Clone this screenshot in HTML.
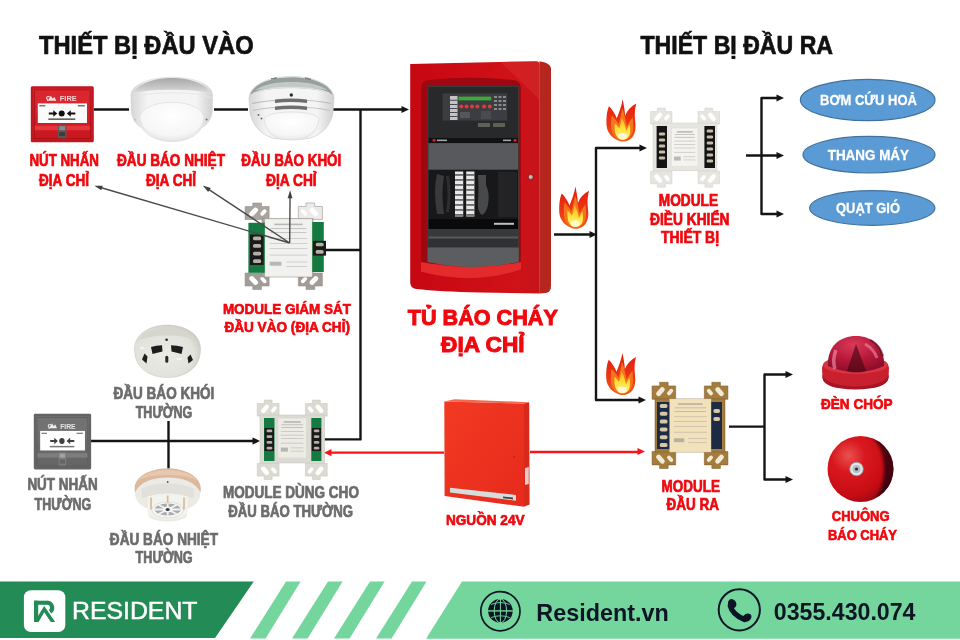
<!DOCTYPE html>
<html><head><meta charset="utf-8">
<style>
html,body{margin:0;padding:0;background:#fff;}
body{width:960px;height:640px;overflow:hidden;position:relative;font-family:"Liberation Sans",sans-serif;}
svg{position:absolute;left:0;top:0;display:block;font-family:"Liberation Sans",sans-serif;will-change:transform;}
.t text{font-family:"Liberation Sans",sans-serif;font-weight:bold;}
.r{fill:#f0080e;stroke:#f0080e;stroke-width:0.7;}
.rb{fill:#f0080e;stroke:#f0080e;stroke-width:1.0;}
.g{fill:#6c6c6c;stroke:#6c6c6c;stroke-width:0.7;}
.k{fill:#111;stroke:#111;stroke-width:0.7;}
.w{fill:#fff;stroke:#fff;stroke-width:0.3;}
</style></head>
<body>
<svg width="960" height="640" viewBox="0 0 960 640">

<defs>
  <linearGradient id="gRedBox" x1="0" y1="0" x2="0" y2="1">
    <stop offset="0" stop-color="#e02a30"/><stop offset="1" stop-color="#c8161e"/>
  </linearGradient>
  <linearGradient id="gDet" x1="0" y1="0" x2="0" y2="1">
    <stop offset="0" stop-color="#d8d8d8"/><stop offset="0.35" stop-color="#f2f2f2"/><stop offset="1" stop-color="#ffffff"/>
  </linearGradient>
  <linearGradient id="gDetSide" x1="0" y1="0" x2="1" y2="0">
    <stop offset="0" stop-color="#d6d6d6"/><stop offset="0.2" stop-color="#f4f4f4"/><stop offset="0.8" stop-color="#f4f4f4"/><stop offset="1" stop-color="#d0d0d0"/>
  </linearGradient>
  <linearGradient id="gRim" x1="0" y1="0" x2="0" y2="1">
    <stop offset="0" stop-color="#a8a8a8"/><stop offset="0.6" stop-color="#c8c8c8"/><stop offset="1" stop-color="#e4e4e4"/>
  </linearGradient>
  <radialGradient id="gDome" cx="0.5" cy="0.35" r="0.7">
    <stop offset="0" stop-color="#ffffff"/><stop offset="0.7" stop-color="#f6f6f6"/><stop offset="1" stop-color="#e2e2e2"/>
  </radialGradient>
  <linearGradient id="gCab" x1="0" y1="0" x2="1" y2="0">
    <stop offset="0" stop-color="#c40812"/><stop offset="0.3" stop-color="#cc0a14"/><stop offset="0.8" stop-color="#d01218"/><stop offset="1" stop-color="#c4141a"/>
  </linearGradient>
  <linearGradient id="gCabTop" x1="0" y1="0" x2="0" y2="1">
    <stop offset="0" stop-color="#e8403e"/><stop offset="1" stop-color="#d41c20"/>
  </linearGradient>
  <linearGradient id="gPsu" x1="0" y1="0" x2="1" y2="1">
    <stop offset="0" stop-color="#f23a22"/><stop offset="1" stop-color="#e62a1c"/>
  </linearGradient>
  <radialGradient id="gBell" cx="0.32" cy="0.3" r="0.85">
    <stop offset="0" stop-color="#ea5050"/><stop offset="0.3" stop-color="#d8181e"/><stop offset="0.7" stop-color="#c80c14"/><stop offset="0.92" stop-color="#960a14"/><stop offset="1" stop-color="#5a0610"/>
  </radialGradient>
  <radialGradient id="gStrobe" cx="0.45" cy="0.25" r="0.85">
    <stop offset="0" stop-color="#d83a58"/><stop offset="0.5" stop-color="#b8183a"/><stop offset="1" stop-color="#800a24"/>
  </radialGradient>
  <linearGradient id="gStrobeBase" x1="0" y1="0" x2="0" y2="1">
    <stop offset="0" stop-color="#e0303a"/><stop offset="1" stop-color="#b8141e"/>
  </linearGradient>
  <linearGradient id="gFlameO" x1="0" y1="0" x2="0" y2="1">
    <stop offset="0" stop-color="#e41c0e"/><stop offset="0.6" stop-color="#ec3614"/><stop offset="1" stop-color="#f2601a"/>
  </linearGradient>
  <linearGradient id="gFlameI" x1="0" y1="0" x2="0" y2="1">
    <stop offset="0" stop-color="#f8a822"/><stop offset="0.5" stop-color="#fde036"/><stop offset="1" stop-color="#fff690"/>
  </linearGradient>
  <filter id="soft" x="-20%" y="-20%" width="140%" height="140%"><feGaussianBlur stdDeviation="1.6"/></filter>
  <filter id="gray" color-interpolation-filters="sRGB"><feColorMatrix type="saturate" values="0"/><feComponentTransfer><feFuncR type="linear" slope="0.82" intercept="0.2"/><feFuncG type="linear" slope="0.82" intercept="0.2"/><feFuncB type="linear" slope="0.82" intercept="0.2"/></feComponentTransfer></filter>
</defs>

<rect width="960" height="640" fill="#fff"/>

<g stroke="#141414" stroke-width="2.4" fill="none" stroke-linejoin="round">
  <path d="M94,109.5 H129 M214,109.5 H248 M333,109.5 H404"/>
  <path d="M360.5,109.5 V439.4 H324.6"/>
  <path d="M326,250 H360.5"/>
  <path d="M91,441 H254"/>
  <path d="M168.5,421 V469"/>
  <path d="M554,234.5 H591"/>
  <path d="M641,148 H596 V400 H640"/>
  <path d="M746,155.5 H779 M779,98 H761.5 V214 H779"/>
  <path d="M729,426.6 H764.5 M788,374.5 H764.5 V479.5 H788"/>
</g>
<g fill="#141414">
  <path d="M409,109.5 l-7.5,-3.6 v7.2 z"/>
  <path d="M597,234.5 l-7.5,-3.6 v7.2 z"/>
  <path d="M647,148 l-7.5,-3.6 v7.2 z"/>
  <path d="M646,400 l-7.5,-3.6 v7.2 z"/>
  <path d="M784,98 l-7.5,-3.6 v7.2 z"/>
  <path d="M784,155.5 l-7.5,-3.6 v7.2 z"/>
  <path d="M784,214 l-7.5,-3.6 v7.2 z"/>
  <path d="M793,374.5 l-7.5,-3.6 v7.2 z"/>
  <path d="M793,479.5 l-7.5,-3.6 v7.2 z"/>
  <path d="M260,441 l-7.5,-3.6 v7.2 z"/>
</g>
<g stroke="#f81418" stroke-width="2.3" fill="none">
  <path d="M329,452.7 H444 M530,452 H640"/>
</g>
<g fill="#f81418">
  <path d="M324,452.7 l7.5,-3.6 v7.2 z"/>
  <path d="M645,451.5 l-7.5,-3.6 v7.2 z"/>
</g>

<g transform="translate(30.8,86.2)">
<rect x="0" y="0" width="63" height="56" rx="1.5" fill="#c4161e"/>
<rect x="2.5" y="2.5" width="58" height="51" fill="url(#gRedBox)"/>
<rect x="4" y="4" width="55" height="13" fill="#da2630"/>
<rect x="3.6" y="3.6" width="55.8" height="48.8" fill="none" stroke="#a8121a" stroke-width="0.9"/>
<text x="15" y="15" font-size="7.5" fill="#f8d8d8" font-weight="bold" font-style="italic">ʕ</text>
<path d="M17,14.5 l3,-5 l2,3 l1.5,-2 l2,4 z" fill="#f6e0e0"/>
<text x="29" y="15" font-size="8" fill="#f4d0d0" font-weight="bold" textLength="17" lengthAdjust="spacingAndGlyphs">FIRE</text>
<rect x="7" y="17.2" width="49.2" height="19.6" fill="#fafafa"/>
<rect x="8.5" y="19" width="6" height="1.2" fill="#555"/><rect x="47" y="19" width="7" height="1.2" fill="#555"/>
<circle cx="30.9" cy="27.3" r="3" fill="#111"/>
<path d="M18,26.3 h4.5 v-2.2 l4,3.2 l-4,3.2 v-2.2 h-4.5 z" fill="#111"/>
<path d="M44.5,26.3 h-4.5 v-2.2 l-4,3.2 l4,3.2 v-2.2 h4.5 z" fill="#111"/>
<rect x="17.5" y="32.2" width="27" height="1.5" fill="#555"/>
<rect x="4" y="39.5" width="55" height="4.5" fill="#e4363c"/>
<rect x="27.2" y="38.5" width="8.4" height="13.5" rx="1" fill="#5a5a5a"/>
<rect x="28.4" y="40" width="6" height="4" fill="#8a8a8a"/>
<rect x="28.4" y="46" width="6" height="4" fill="#3c3c3c"/>
</g>
<g transform="translate(33.8,413.8) scale(0.91,0.996)" filter="url(#gray)">
<rect x="0" y="0" width="63" height="56" rx="1.5" fill="#c4161e"/>
<rect x="2.5" y="2.5" width="58" height="51" fill="url(#gRedBox)"/>
<rect x="4" y="4" width="55" height="13" fill="#da2630"/>
<rect x="3.6" y="3.6" width="55.8" height="48.8" fill="none" stroke="#a8121a" stroke-width="0.9"/>
<text x="15" y="15" font-size="7.5" fill="#f8d8d8" font-weight="bold" font-style="italic">ʕ</text>
<path d="M17,14.5 l3,-5 l2,3 l1.5,-2 l2,4 z" fill="#f6e0e0"/>
<text x="29" y="15" font-size="8" fill="#f4d0d0" font-weight="bold" textLength="17" lengthAdjust="spacingAndGlyphs">FIRE</text>
<rect x="7" y="17.2" width="49.2" height="19.6" fill="#fafafa"/>
<rect x="8.5" y="19" width="6" height="1.2" fill="#555"/><rect x="47" y="19" width="7" height="1.2" fill="#555"/>
<circle cx="30.9" cy="27.3" r="3" fill="#111"/>
<path d="M18,26.3 h4.5 v-2.2 l4,3.2 l-4,3.2 v-2.2 h-4.5 z" fill="#111"/>
<path d="M44.5,26.3 h-4.5 v-2.2 l-4,3.2 l4,3.2 v-2.2 h4.5 z" fill="#111"/>
<rect x="17.5" y="32.2" width="27" height="1.5" fill="#555"/>
<rect x="4" y="39.5" width="55" height="4.5" fill="#e4363c"/>
<rect x="27.2" y="38.5" width="8.4" height="13.5" rx="1" fill="#5a5a5a"/>
<rect x="28.4" y="40" width="6" height="4" fill="#8a8a8a"/>
<rect x="28.4" y="46" width="6" height="4" fill="#3c3c3c"/>
</g>
<g transform="translate(131,77.3) scale(1.0)">
<path d="M0,18 C0,7 19,0 41,0 C63,0 81.5,7 81.5,18 L81.3,34 C80.5,42 76,48 70.5,50.5 C67,58 56,64.2 41,64.2 C26,64.2 15,58 11,50.5 C5.5,48 1,42 0.2,34 Z" fill="url(#gDetSide)" stroke="#d4d4d4" stroke-width="0.6"/>
<path d="M1.5,17 C6,6 24,0.8 41,0.8 C58,0.8 76,6 80,17 C72,13.5 58,12.5 41,12.5 C24,12.5 10,13.5 1.5,17 Z" fill="url(#gRim)"/>
<path d="M1,21 C8,17 24,15.5 41,15.5 C58,15.5 74,17 81,21" fill="none" stroke="#e6e6e6" stroke-width="0.9"/>
<path d="M8.8,40 C10,31 24,25 41,25 C58,25 71.5,31 72.8,40 C72,53 58,63.8 41,63.8 C24,63.8 10,53 8.8,40 Z" fill="url(#gDome)" stroke="#e0e0e0" stroke-width="0.8"/>
<circle cx="4" cy="42.5" r="1" fill="#c0c0c0"/><circle cx="75.6" cy="42.2" r="1.1" fill="#777"/>
</g>
<g transform="translate(249,76.5) scale(1.0)">
<path d="M0,22 C0,9 19,0 42.5,0 C66,0 85,9 85,22 L84,36 C82,48 74,58 60,62 Q42.5,64.5 25,62 C11,58 3,48 1,36 Z" fill="url(#gDetSide)" stroke="#c8c8c8" stroke-width="0.6"/>
<path d="M1.5,18 C5,7 22,0.8 42.5,0.8 C63,0.8 80,7 83.5,18 C76,14 62,11.5 42.5,11.5 C23,11.5 9,14 1.5,18 Z" fill="#98a09e"/>
<path d="M6,14 C13,8 27,5.5 42.5,5.5 C58,5.5 72,8 79,14 C72,12 60,11 42.5,11 C25,11 13,12 6,14 Z" fill="#c2c8c6"/>
<path d="M4,17.5 C11,13 26,11 42.5,11 C59,11 74,13 81,17.5" fill="none" stroke="#dadedc" stroke-width="1.6"/>
<path d="M22,2.5 L28,1.5 M56,1.5 L62,3" stroke="#7c8482" stroke-width="1.6"/>
<circle cx="42.3" cy="18.5" r="1.7" fill="#2a2a2a"/>
<path d="M3,27 C14,24.5 28,23.5 42.5,23.5 C57,23.5 71,24.5 82,27" fill="none" stroke="#bcbcbc" stroke-width="1.1"/>
<path d="M4,34 C15,31.5 28,30.5 42.5,30.5 C57,30.5 70,31.5 81,34" fill="none" stroke="#c0c0c0" stroke-width="1.1"/>
<path d="M26,23 Q42,21 58,23 L58,26.5 Q42,24.5 26,26.5 Z" fill="#6e6e6e"/>
<path d="M26,30 Q42,28 58,30 L58,33.5 Q42,31.5 26,33.5 Z" fill="#6e6e6e"/>
<path d="M15,42 C18,37.5 30,35.5 42.5,35.5 C55,35.5 67,37.5 70,42 C69,53 62,60.5 52,62.8 Q42.5,64 33,62.8 C23,60.5 16,53 15,42 Z" fill="url(#gDome)" stroke="#dcdcdc" stroke-width="0.8"/>
<circle cx="9.5" cy="38.5" r="0.9" fill="#666"/><circle cx="12.5" cy="42" r="0.9" fill="#666"/>
</g>
<g transform="translate(134,325)">
<defs><radialGradient id="gCS" cx="0.45" cy="0.55" r="0.6"><stop offset="0" stop-color="#ecece6"/><stop offset="0.75" stop-color="#e2e2dc"/><stop offset="1" stop-color="#c8c8c0"/></radialGradient></defs>
<path d="M0.5,24 C0.5,9 16,0 33.5,0 C51,0 66.5,9 66.5,24 C66.5,30 65,36 62,40 C56,48 46,52.5 33.5,52.5 C21,52.5 11,48 5,40 C2,36 0.5,30 0.5,24 Z" fill="url(#gCS)" stroke="#c4c4bc" stroke-width="0.5"/>
<path d="M4,16 C10,7 21,2.5 33.5,2.5 C46,2.5 57,7 63,16 C55,12 45,10.5 33.5,10.5 C22,10.5 12,12 4,16 Z" fill="#d6d6ce"/>
<circle cx="32.6" cy="14.8" r="1.3" fill="#222"/>
<path d="M17,22 Q22,20.5 28,20.3 L28.5,26.5 Q23,27.5 18.5,29 Z" fill="#1e1e1e"/>
<path d="M37,20.3 Q43,20.5 49,22 L47.5,29 Q43,27.5 37.5,26.5 Z" fill="#1e1e1e"/>
<path d="M10.5,28.5 L13.5,31.5 L12.5,38.5 L8,34.5 Z" fill="#1e1e1e"/>
<path d="M56.5,29.5 L53.5,32.5 L54.5,38.5 L59,35 Z" fill="#1e1e1e"/>
<rect x="31.3" y="30.8" width="3" height="7" rx="1.5" fill="#2a2a2a"/>
<ellipse cx="8" cy="23" rx="2" ry="1" fill="#fafafa" opacity="0.8"/>
<ellipse cx="45" cy="34" rx="3" ry="1.2" fill="#fafafa" opacity="0.7"/>
</g>
<g transform="translate(133.7,468.5)">
<path d="M1,20 C1,8 16,0 34,0 C52,0 67,8 67,20 L66.5,27 C65,34 60,38 54,40 L53,48 C50,51.5 42,53 34,53 C26,53 18,51.5 15,48 L14,40 C8,38 3,34 1.5,27 Z" fill="#eceae4"/>
<path d="M1,20 C1,8 16,0 34,0 C52,0 67,8 67,20 L66.8,24 C62,14 50,9 34,9 C18,9 6,14 1.2,24 Z" fill="#dcb89c"/>
<path d="M4,12 C10,5 22,1.5 34,1.5 C46,1.5 58,5 64,12 C56,8 46,6.5 34,6.5 C22,6.5 12,8 4,12 Z" fill="#e6c8b0"/>
<circle cx="34" cy="13.5" r="0.9" fill="#555"/>
<path d="M8,20 C16,16 26,15 34,15 C42,15 52,16 60,20 L60,30 C52,27 42,26 34,26 C26,26 16,27 8,30 Z" fill="#e2e0da"/>
<path d="M14,28 C20,26 28,25 34,25 C40,25 48,26 54,28 L54,44 C50,49 42,51 34,51 C26,51 18,49 14,44 Z" fill="#f2f2ee"/>
<ellipse cx="34" cy="41.5" rx="16" ry="8" fill="#f6f6f4" stroke="#d8d8d4" stroke-width="0.8"/>
<ellipse cx="34" cy="41" rx="13" ry="6" fill="#a8acae"/>
<g stroke="#f4f4f2" stroke-width="1.8"><path d="M21,41 H47 M34,35 V47 M25,36.5 L43,45.5 M43,36.5 L25,45.5"/></g>
<ellipse cx="34" cy="41" rx="4.5" ry="3" fill="#f4f4f2"/>
<ellipse cx="34" cy="41" rx="2" ry="1.5" fill="#3a3a3a"/>
<g fill="#d9b594"><rect x="16.5" y="29" width="1.6" height="12"/><rect x="49.5" y="29" width="1.6" height="12"/><rect x="33.2" y="27" width="1.6" height="7"/></g>
</g>
<g><g transform="translate(244,202.5) scale(1.0931,1.0000)">
<path d="M1,4 H8 V0.5 H16 V4 H23 V17 H1 Z" fill="#aaa49f" stroke="#8e8884" stroke-width="0.5"/>
<rect x="6.5" y="4.5" width="4.6" height="10" rx="2.3" transform="rotate(40 8.8 9.5)" fill="#ffffff"/>
<rect x="16" y="6.5" width="3.6" height="7" rx="1.8" transform="rotate(40 17.8 10)" fill="#ffffff"/>
</g>
<g transform="translate(323.5,202.5) scale(-1.0931,1.0000)">
<path d="M1,4 H8 V0.5 H16 V4 H23 V17 H1 Z" fill="#ecebea" stroke="#8e8884" stroke-width="0.5"/>
<rect x="6.5" y="4.5" width="4.6" height="10" rx="2.3" transform="rotate(40 8.8 9.5)" fill="#ffffff"/>
<rect x="16" y="6.5" width="3.6" height="7" rx="1.8" transform="rotate(40 17.8 10)" fill="#ffffff"/>
</g>
<g transform="translate(244,290) scale(1.0931,-1.0000)">
<path d="M1,4 H8 V0.5 H16 V4 H23 V17 H1 Z" fill="#a29c98" stroke="#8e8884" stroke-width="0.5"/>
<rect x="6.5" y="4.5" width="4.6" height="10" rx="2.3" transform="rotate(40 8.8 9.5)" fill="#ffffff"/>
<rect x="16" y="6.5" width="3.6" height="7" rx="1.8" transform="rotate(40 17.8 10)" fill="#ffffff"/>
</g>
<g transform="translate(323.5,290) scale(-1.0931,-1.0000)">
<path d="M1,4 H8 V0.5 H16 V4 H23 V17 H1 Z" fill="#a29c98" stroke="#8e8884" stroke-width="0.5"/>
<rect x="6.5" y="4.5" width="4.6" height="10" rx="2.3" transform="rotate(40 8.8 9.5)" fill="#ffffff"/>
<rect x="16" y="6.5" width="3.6" height="7" rx="1.8" transform="rotate(40 17.8 10)" fill="#ffffff"/>
</g>
<rect x="262" y="218.5" width="51.00" height="58.50" fill="#aaa49f" stroke="#8e8884" stroke-width="0.5"/>
<rect x="248.4" y="222.8" width="16.60" height="50.00" fill="#157a42"/>
<rect x="312" y="222" width="11.80" height="50.00" fill="#157a42"/>
<rect x="250" y="234.5" width="13.60" height="30.50" fill="#1a1a1a"/>
<rect x="312.8" y="240.8" width="13.20" height="14.80" fill="#1a1a1a"/>
<rect x="252.99200000000002" y="236.41" width="8.160000000000013" height="3.8125" rx="1.59" fill="#b4b0a8"/><rect x="252.99200000000002" y="244.03" width="8.160000000000013" height="3.8125" rx="1.59" fill="#b4b0a8"/><rect x="252.99200000000002" y="251.66" width="8.160000000000013" height="3.8125" rx="1.59" fill="#b4b0a8"/><rect x="252.99200000000002" y="259.28" width="8.160000000000013" height="3.8125" rx="1.59" fill="#b4b0a8"/>
<rect x="315.704" y="242.65" width="7.919999999999993" height="3.6999999999999957" rx="1.54" fill="#b4b0a8"/><rect x="315.704" y="250.05" width="7.919999999999993" height="3.6999999999999957" rx="1.54" fill="#b4b0a8"/>
<rect x="265" y="219" width="47.00" height="57.70" fill="#f1f1ef" stroke="#d6d2c8" stroke-width="0.4"/>
<g fill="#8a8a8a" opacity="0.55"><rect x="274.40" y="223.62" width="28.20" height="1.6"/><rect x="270.64" y="228.23" width="35.72" height="0.8"/><rect x="270.64" y="232.27" width="35.72" height="0.8"/><rect x="269.70" y="238.04" width="37.60" height="0.6"/><rect x="269.70" y="243.23" width="37.60" height="0.6"/><rect x="269.70" y="248.43" width="37.60" height="0.6"/><rect x="269.70" y="254.77" width="37.60" height="0.6"/><rect x="269.70" y="261.70" width="11.75" height="4"/><rect x="286.15" y="261.70" width="21.15" height="0.6"/><rect x="286.15" y="266.31" width="21.15" height="0.6"/></g></g>
<g><g transform="translate(256.3,399.6) scale(0.9886,0.9706)">
<path d="M1,4 H8 V0.5 H16 V4 H23 V17 H1 Z" fill="#dcdbd3" stroke="#c4c2b8" stroke-width="0.5"/>
<rect x="6.5" y="4.5" width="4.6" height="10" rx="2.3" transform="rotate(40 8.8 9.5)" fill="#ffffff"/>
<rect x="16" y="6.5" width="3.6" height="7" rx="1.8" transform="rotate(40 17.8 10)" fill="#ffffff"/>
</g>
<g transform="translate(328.2,399.6) scale(-0.9886,0.9706)">
<path d="M1,4 H8 V0.5 H16 V4 H23 V17 H1 Z" fill="#dcdbd3" stroke="#c4c2b8" stroke-width="0.5"/>
<rect x="6.5" y="4.5" width="4.6" height="10" rx="2.3" transform="rotate(40 8.8 9.5)" fill="#ffffff"/>
<rect x="16" y="6.5" width="3.6" height="7" rx="1.8" transform="rotate(40 17.8 10)" fill="#ffffff"/>
</g>
<g transform="translate(256.3,480) scale(0.9886,-0.9706)">
<path d="M1,4 H8 V0.5 H16 V4 H23 V17 H1 Z" fill="#dcdbd3" stroke="#c4c2b8" stroke-width="0.5"/>
<rect x="6.5" y="4.5" width="4.6" height="10" rx="2.3" transform="rotate(40 8.8 9.5)" fill="#ffffff"/>
<rect x="16" y="6.5" width="3.6" height="7" rx="1.8" transform="rotate(40 17.8 10)" fill="#ffffff"/>
</g>
<g transform="translate(328.2,480) scale(-0.9886,-0.9706)">
<path d="M1,4 H8 V0.5 H16 V4 H23 V17 H1 Z" fill="#dcdbd3" stroke="#c4c2b8" stroke-width="0.5"/>
<rect x="6.5" y="4.5" width="4.6" height="10" rx="2.3" transform="rotate(40 8.8 9.5)" fill="#ffffff"/>
<rect x="16" y="6.5" width="3.6" height="7" rx="1.8" transform="rotate(40 17.8 10)" fill="#ffffff"/>
</g>
<rect x="260" y="415" width="64.60" height="48.00" fill="#dcdbd3" stroke="#c4c2b8" stroke-width="0.5"/>
<rect x="264" y="418" width="10.50" height="43.00" fill="#157a42"/>
<rect x="311.3" y="418" width="10.10" height="43.00" fill="#157a42"/>
<rect x="264.5" y="428" width="9.50" height="23.00" fill="#1a1a1a"/>
<rect x="311.8" y="428" width="9.20" height="23.00" fill="#1a1a1a"/>
<rect x="266.59" y="429.44" width="5.7" height="2.875" rx="1.20" fill="#b4b0a8"/><rect x="266.59" y="435.19" width="5.7" height="2.875" rx="1.20" fill="#b4b0a8"/><rect x="266.59" y="440.94" width="5.7" height="2.875" rx="1.20" fill="#b4b0a8"/><rect x="266.59" y="446.69" width="5.7" height="2.875" rx="1.20" fill="#b4b0a8"/>
<rect x="313.824" y="429.44" width="5.519999999999993" height="2.875" rx="1.20" fill="#b4b0a8"/><rect x="313.824" y="435.19" width="5.519999999999993" height="2.875" rx="1.20" fill="#b4b0a8"/><rect x="313.824" y="440.94" width="5.519999999999993" height="2.875" rx="1.20" fill="#b4b0a8"/><rect x="313.824" y="446.69" width="5.519999999999993" height="2.875" rx="1.20" fill="#b4b0a8"/>
<rect x="278" y="418" width="28.30" height="40.00" fill="#ecebe4" stroke="#d6d2c8" stroke-width="0.4"/>
<g fill="#8a8a8a" opacity="0.55"><rect x="283.66" y="421.20" width="16.98" height="1.6"/><rect x="281.40" y="424.40" width="21.51" height="0.8"/><rect x="281.40" y="427.20" width="21.51" height="0.8"/><rect x="280.83" y="431.20" width="22.64" height="0.6"/><rect x="280.83" y="434.80" width="22.64" height="0.6"/><rect x="280.83" y="438.40" width="22.64" height="0.6"/><rect x="280.83" y="442.80" width="22.64" height="0.6"/><rect x="280.83" y="447.60" width="7.08" height="4"/><rect x="290.74" y="447.60" width="12.74" height="0.6"/><rect x="290.74" y="450.80" width="12.74" height="0.6"/></g></g>
<g><g transform="translate(649.6,107.6) scale(0.9749,0.9706)">
<path d="M1,4 H8 V0.5 H16 V4 H23 V17 H1 Z" fill="#e6e5e0" stroke="#cfcdc6" stroke-width="0.5"/>
<rect x="6.5" y="4.5" width="4.6" height="10" rx="2.3" transform="rotate(40 8.8 9.5)" fill="#ffffff"/>
<rect x="16" y="6.5" width="3.6" height="7" rx="1.8" transform="rotate(40 17.8 10)" fill="#ffffff"/>
</g>
<g transform="translate(720.5,107.6) scale(-0.9749,0.9706)">
<path d="M1,4 H8 V0.5 H16 V4 H23 V17 H1 Z" fill="#e6e5e0" stroke="#cfcdc6" stroke-width="0.5"/>
<rect x="6.5" y="4.5" width="4.6" height="10" rx="2.3" transform="rotate(40 8.8 9.5)" fill="#ffffff"/>
<rect x="16" y="6.5" width="3.6" height="7" rx="1.8" transform="rotate(40 17.8 10)" fill="#ffffff"/>
</g>
<g transform="translate(649.6,187.7) scale(0.9749,-0.9706)">
<path d="M1,4 H8 V0.5 H16 V4 H23 V17 H1 Z" fill="#e6e5e0" stroke="#cfcdc6" stroke-width="0.5"/>
<rect x="6.5" y="4.5" width="4.6" height="10" rx="2.3" transform="rotate(40 8.8 9.5)" fill="#ffffff"/>
<rect x="16" y="6.5" width="3.6" height="7" rx="1.8" transform="rotate(40 17.8 10)" fill="#ffffff"/>
</g>
<g transform="translate(720.5,187.7) scale(-0.9749,-0.9706)">
<path d="M1,4 H8 V0.5 H16 V4 H23 V17 H1 Z" fill="#e6e5e0" stroke="#cfcdc6" stroke-width="0.5"/>
<rect x="6.5" y="4.5" width="4.6" height="10" rx="2.3" transform="rotate(40 8.8 9.5)" fill="#ffffff"/>
<rect x="16" y="6.5" width="3.6" height="7" rx="1.8" transform="rotate(40 17.8 10)" fill="#ffffff"/>
</g>
<rect x="653" y="123" width="64.00" height="47.80" fill="#e6e5e0" stroke="#cfcdc6" stroke-width="0.5"/>
<rect x="656.6" y="126" width="10.40" height="42.00" fill="#141414"/>
<rect x="704.4" y="126" width="10.60" height="42.00" fill="#141414"/>
<rect x="658.888" y="132.50" width="6.239999999999986" height="3.0" rx="1.25" fill="#c8bea8"/><rect x="658.888" y="138.50" width="6.239999999999986" height="3.0" rx="1.25" fill="#c8bea8"/><rect x="658.888" y="144.50" width="6.239999999999986" height="3.0" rx="1.25" fill="#c8bea8"/><rect x="658.888" y="150.50" width="6.239999999999986" height="3.0" rx="1.25" fill="#c8bea8"/><rect x="658.888" y="156.50" width="6.239999999999986" height="3.0" rx="1.25" fill="#c8bea8"/>
<rect x="706.732" y="129.50" width="6.360000000000014" height="3.0" rx="1.25" fill="#c8bea8"/><rect x="706.732" y="135.50" width="6.360000000000014" height="3.0" rx="1.25" fill="#c8bea8"/><rect x="706.732" y="141.50" width="6.360000000000014" height="3.0" rx="1.25" fill="#c8bea8"/><rect x="706.732" y="147.50" width="6.360000000000014" height="3.0" rx="1.25" fill="#c8bea8"/><rect x="706.732" y="153.50" width="6.360000000000014" height="3.0" rx="1.25" fill="#c8bea8"/><rect x="706.732" y="159.50" width="6.360000000000014" height="3.0" rx="1.25" fill="#c8bea8"/>
<rect x="671.4" y="128" width="26.60" height="38.60" fill="#f4f3ef" stroke="#d6d2c8" stroke-width="0.4"/>
<g fill="#8a8a8a" opacity="0.55"><rect x="676.72" y="131.09" width="15.96" height="1.6"/><rect x="674.59" y="134.18" width="20.22" height="0.8"/><rect x="674.59" y="136.88" width="20.22" height="0.8"/><rect x="674.06" y="140.74" width="21.28" height="0.6"/><rect x="674.06" y="144.21" width="21.28" height="0.6"/><rect x="674.06" y="147.69" width="21.28" height="0.6"/><rect x="674.06" y="151.93" width="21.28" height="0.6"/><rect x="674.06" y="156.56" width="6.65" height="4"/><rect x="683.37" y="156.56" width="11.97" height="0.6"/><rect x="683.37" y="159.65" width="11.97" height="0.6"/></g></g>
<g><g transform="translate(651,381.8) scale(1.0725,1.0294)">
<path d="M1,4 H8 V0.5 H16 V4 H23 V17 H1 Z" fill="#a47c3e" stroke="#7a5a28" stroke-width="0.5"/>
<rect x="6.5" y="4.5" width="4.6" height="10" rx="2.3" transform="rotate(40 8.8 9.5)" fill="#f2ead8"/>
<rect x="16" y="6.5" width="3.6" height="7" rx="1.8" transform="rotate(40 17.8 10)" fill="#f2ead8"/>
</g>
<g transform="translate(729,381.8) scale(-1.0725,1.0294)">
<path d="M1,4 H8 V0.5 H16 V4 H23 V17 H1 Z" fill="#a47c3e" stroke="#7a5a28" stroke-width="0.5"/>
<rect x="6.5" y="4.5" width="4.6" height="10" rx="2.3" transform="rotate(40 8.8 9.5)" fill="#f2ead8"/>
<rect x="16" y="6.5" width="3.6" height="7" rx="1.8" transform="rotate(40 17.8 10)" fill="#f2ead8"/>
</g>
<g transform="translate(651,469) scale(1.0725,-1.0294)">
<path d="M1,4 H8 V0.5 H16 V4 H23 V17 H1 Z" fill="#a47c3e" stroke="#7a5a28" stroke-width="0.5"/>
<rect x="6.5" y="4.5" width="4.6" height="10" rx="2.3" transform="rotate(40 8.8 9.5)" fill="#f2ead8"/>
<rect x="16" y="6.5" width="3.6" height="7" rx="1.8" transform="rotate(40 17.8 10)" fill="#f2ead8"/>
</g>
<g transform="translate(729,469) scale(-1.0725,-1.0294)">
<path d="M1,4 H8 V0.5 H16 V4 H23 V17 H1 Z" fill="#a47c3e" stroke="#7a5a28" stroke-width="0.5"/>
<rect x="6.5" y="4.5" width="4.6" height="10" rx="2.3" transform="rotate(40 8.8 9.5)" fill="#f2ead8"/>
<rect x="16" y="6.5" width="3.6" height="7" rx="1.8" transform="rotate(40 17.8 10)" fill="#f2ead8"/>
</g>
<rect x="655" y="399" width="70.00" height="53.00" fill="#a47c3e" stroke="#7a5a28" stroke-width="0.5"/>
<rect x="657" y="402" width="12.80" height="47.00" fill="#1c2a44"/>
<rect x="711" y="402" width="11.00" height="47.00" fill="#1c2a44"/>
<rect x="659.816" y="403.96" width="7.679999999999972" height="3.9166666666666665" rx="1.63" fill="#d4c8a8"/><rect x="659.816" y="411.79" width="7.679999999999972" height="3.9166666666666665" rx="1.63" fill="#d4c8a8"/><rect x="659.816" y="419.62" width="7.679999999999972" height="3.9166666666666665" rx="1.63" fill="#d4c8a8"/><rect x="659.816" y="427.46" width="7.679999999999972" height="3.9166666666666665" rx="1.63" fill="#d4c8a8"/><rect x="659.816" y="435.29" width="7.679999999999972" height="3.9166666666666665" rx="1.63" fill="#d4c8a8"/><rect x="659.816" y="443.12" width="7.679999999999972" height="3.9166666666666665" rx="1.63" fill="#d4c8a8"/>
<rect x="713.42" y="409.00" width="6.6" height="4.0" rx="1.67" fill="#d4c8a8"/><rect x="713.42" y="417.00" width="6.6" height="4.0" rx="1.67" fill="#d4c8a8"/>
<rect x="669.8" y="399" width="41.20" height="53.00" fill="#f2e2bc" stroke="#d6d2c8" stroke-width="0.4"/>
<g fill="#8a8a8a" opacity="0.55"><rect x="678.04" y="403.24" width="24.72" height="1.6"/><rect x="674.74" y="407.48" width="31.31" height="0.8"/><rect x="674.74" y="411.19" width="31.31" height="0.8"/><rect x="673.92" y="416.49" width="32.96" height="0.6"/><rect x="673.92" y="421.26" width="32.96" height="0.6"/><rect x="673.92" y="426.03" width="32.96" height="0.6"/><rect x="673.92" y="431.86" width="32.96" height="0.6"/><rect x="673.92" y="438.22" width="10.30" height="4"/><rect x="688.34" y="438.22" width="18.54" height="0.6"/><rect x="688.34" y="442.46" width="18.54" height="0.6"/></g></g>
<g>
<!-- cabinet -->
<path d="M539.4,61.3 L545,62.5 Q551,64.5 551,69 L551,286 Q551,292 546,293 L539.4,293.5 Z" fill="#b4261e"/>
<path d="M410.2,64 L536,61.2 Q539.6,61.2 539.6,65 L539.6,293.5 L480,292.5 Q440,291.5 416,289 Q410.2,288 410.2,282 Z" fill="url(#gCab)"/>
<path d="M500,62 L536,61.2 Q539.6,61.2 539.6,65 L539.6,100 Q520,80 500,62 Z" fill="#dc3a36" opacity="0.35"/>
<!-- recess -->
<path d="M421.2,88 Q421.2,80.5 429,80 Q471,75.5 513,80 Q520.8,80.5 520.8,88 L520.8,264 L421.2,264 Z" fill="#9c0812"/>
<path d="M421,262 Q473,272 521,262 L521,270 Q473,286 421,272 Z" fill="#e42a2a"/>
<path d="M421,272 Q473,286 521,270" stroke="#b80a14" stroke-width="1" fill="none" opacity="0.6"/>
<!-- window -->
<rect x="427.5" y="86" width="91.3" height="176" fill="#3b3c3e"/>
<rect x="428.5" y="87" width="89.5" height="50" fill="#28292b"/>
<rect x="442.5" y="93.4" width="64.7" height="27.2" fill="#3c3d40"/>
<rect x="450" y="96" width="7.5" height="24" fill="#c4c4c4"/>
<g fill="#3c3d40"><rect x="450" y="99.8" width="7.5" height="0.9"/><rect x="450" y="104" width="7.5" height="0.9"/><rect x="450" y="108" width="7.5" height="0.9"/><rect x="450" y="112" width="7.5" height="0.9"/><rect x="450" y="116" width="7.5" height="0.9"/></g>
<rect x="458.4" y="96.6" width="32.9" height="3.8" fill="#3ea838"/>
<g fill="#e23a3a"><circle cx="461.3" cy="106.6" r="2"/><circle cx="466.5" cy="106.6" r="2"/><circle cx="472" cy="106.6" r="2"/><circle cx="477.4" cy="106.6" r="2"/><circle cx="484.1" cy="106.6" r="2"/><circle cx="489.8" cy="106.6" r="2"/></g>
<g fill="#8a8a8a"><rect x="494" y="96" width="3" height="2"/><rect x="498.5" y="96" width="3" height="2"/><rect x="503" y="96" width="3" height="2"/>
<rect x="494" y="100" width="3" height="2"/><rect x="498.5" y="100" width="3" height="2"/><rect x="503" y="100" width="3" height="2"/>
<rect x="494" y="104" width="3" height="2"/><rect x="498.5" y="104" width="3" height="2"/><rect x="503" y="104" width="3" height="2"/>
<rect x="494" y="108" width="3" height="2"/><rect x="498.5" y="108" width="3" height="2"/><rect x="503" y="108" width="3" height="2"/></g>
<rect x="460" y="112" width="10" height="6" fill="#55565a"/><rect x="481" y="111" width="10" height="8" fill="#4a4b4f"/>
<rect x="478" y="123" width="12" height="4" fill="#77776a" opacity="0.7"/><rect x="493" y="123" width="12" height="4" fill="#77776a" opacity="0.7"/>
<rect x="428.5" y="137.5" width="89.5" height="5.7" fill="#121212"/>
<circle cx="434" cy="140.3" r="1.5" fill="#e02020"/><circle cx="515" cy="140.3" r="1.5" fill="#e02020"/>
<rect x="437" y="139.6" width="10" height="1.5" fill="#aaa"/><rect x="503" y="139.6" width="8" height="1.5" fill="#aaa"/>
<rect x="428.5" y="143.2" width="89.5" height="26.6" fill="#58595c"/>
<rect x="428.5" y="169.8" width="89.5" height="49.2" fill="#18181a"/>
<path d="M437,174 Q433,190 437,214 L444,214 Q441,195 444,176 Z" fill="#3a3a3c"/>
<path d="M446,176 Q449,195 446,212 L449,212 Q452,195 449,176 Z" fill="#2e2e30"/>
<rect x="455" y="171.5" width="8.2" height="45" fill="#e8e8e8"/><rect x="455" y="174.3" width="8.2" height="1.3" fill="#3a3a3a"/><rect x="455" y="179.3" width="8.2" height="1.3" fill="#3a3a3a"/><rect x="455" y="184.3" width="8.2" height="1.3" fill="#3a3a3a"/><rect x="455" y="189.3" width="8.2" height="1.3" fill="#3a3a3a"/><rect x="455" y="194.3" width="8.2" height="1.3" fill="#3a3a3a"/><rect x="455" y="199.3" width="8.2" height="1.3" fill="#3a3a3a"/><rect x="455" y="204.3" width="8.2" height="1.3" fill="#3a3a3a"/><rect x="455" y="209.3" width="8.2" height="1.3" fill="#3a3a3a"/><rect x="455" y="214.3" width="8.2" height="1.3" fill="#3a3a3a"/><rect x="466.2" y="171.5" width="8.2" height="45" fill="#e8e8e8"/><rect x="466.2" y="174.3" width="8.2" height="1.3" fill="#3a3a3a"/><rect x="466.2" y="179.3" width="8.2" height="1.3" fill="#3a3a3a"/><rect x="466.2" y="184.3" width="8.2" height="1.3" fill="#3a3a3a"/><rect x="466.2" y="189.3" width="8.2" height="1.3" fill="#3a3a3a"/><rect x="466.2" y="194.3" width="8.2" height="1.3" fill="#3a3a3a"/><rect x="466.2" y="199.3" width="8.2" height="1.3" fill="#3a3a3a"/><rect x="466.2" y="204.3" width="8.2" height="1.3" fill="#3a3a3a"/><rect x="466.2" y="209.3" width="8.2" height="1.3" fill="#3a3a3a"/><rect x="466.2" y="214.3" width="8.2" height="1.3" fill="#3a3a3a"/>
<path d="M478,175 l8,0 l0,10 q4,8 2,20 q-2,8 -6,10 q-5,-3 -4,-14 q1,-10 0,-26 Z" fill="#48494b"/>
<rect x="498" y="172" width="19" height="45" fill="#232325"/>
<rect x="428.5" y="219" width="89.5" height="10" fill="#0a0a0a"/>
<rect x="494" y="222.8" width="20" height="2" fill="#c0c0c0"/>
<rect x="428.5" y="229" width="89.5" height="7.5" fill="#38393b"/>
<rect x="428.5" y="236.5" width="89.5" height="2.2" fill="#58595b"/>
<rect x="428.5" y="238.7" width="89.5" height="8.8" fill="#303133"/>
<path d="M427.5,247.5 H518.8 V262 Q473,272 427.5,262 Z" fill="#5c5d60"/>
<circle cx="530.7" cy="177" r="2.5" fill="#c8b8b8" stroke="#7a1010" stroke-width="0.8"/>
</g>
<g>
<path d="M444.3,401.5 L454.5,399.2 L529,402.2 L524,403.6 Z" fill="#f46a50"/>
<path d="M524,403.6 L529.2,402.2 L529.6,504.5 L524,506.8 Z" fill="#d82a1c"/>
<path d="M444.3,401.5 L524,403.6 L524,506.8 L444.6,496 Z" fill="url(#gPsu)"/>
<path d="M450,487.7 L516,495 L516,500.7 L450,492.4 Z" fill="#d6dcdc"/>
<path d="M503,496.5 L513,497.6 L513,499.4 L503,498.3 Z" fill="#444"/>
<path d="M525,468 L528.8,467 L528.8,484 L525,485 Z" fill="#e8e8e8" opacity="0.85"/>
<circle cx="514" cy="457" r="1" fill="#c01a10" opacity="0.7"/>
</g>
<g>
<path d="M822,368 Q822,357 855.5,355 Q889,357 889,368 L888.5,378 Q887,388 855.5,389 Q824,388 822.5,378 Z" fill="#c8202e"/>
<path d="M822.5,374 Q824,385 855.5,386.5 Q887,385 888.5,374 L888.5,378 Q887,389 855.5,389.5 Q824,389 822.5,378 Z" fill="#a81424"/>
<ellipse cx="855.5" cy="365" rx="32.5" ry="9" fill="#d83444"/>
<path d="M828,366 C827,346 840,336 856,336 C872,336 885,346 884,366 Q856,378 828,366 Z" fill="url(#gStrobe)"/>
<path d="M856,344 L847,371 Q856,374 866,371 Z" fill="#3e0610" opacity="0.6"/>
<path d="M836,350 Q832,360 835,369" stroke="#f4a8c0" stroke-width="3.5" fill="none" opacity="0.55"/>
<path d="M865,344 Q874,349 877,358" stroke="#f4a8c0" stroke-width="3" fill="none" opacity="0.5"/>
<path d="M870,340 Q880,345 883,356" stroke="#400814" stroke-width="2.5" fill="none" opacity="0.45"/>
</g>
<g>
<circle cx="860.5" cy="469" r="33" fill="url(#gBell)"/>
<clipPath id="bellclip"><circle cx="860.5" cy="469" r="33"/></clipPath>
<g clip-path="url(#bellclip)">
<path d="M880,436 A33,33 0 0 1 872,503 Q884,490 884,469 Q884,448 872,437 Z" fill="#1e0610" opacity="0.75" filter="url(#soft)"/>
</g>
<circle cx="856.5" cy="469" r="6.8" fill="#dfe4e6" stroke="#8a9092" stroke-width="0.8"/>
<circle cx="856.5" cy="469" r="4" fill="#b4bcc2"/>
<circle cx="856.5" cy="469" r="1.6" fill="#2a2f36"/>
</g>
<g transform="translate(606.25,99.3) scale(1.0)">
<path d="M16.4,0 C15.5,6 13,13 10.5,19 C9,15 6,10 2.7,7 C0.5,12 -0.2,20 0.4,27 C1,34 7,40 14,42 C17,42.8 21,42 24,40 C28,37 29.5,32 29.3,26 C29,20 27.5,14 30,4.3 C25,7 21,11 18.9,16.4 C18.5,11 17.5,5 16.4,0 Z" fill="url(#gFlameO)"/>
<path d="M16,9 C15,15 13.5,21 12.5,25 C11,22 8,19 5.5,16 C4.5,22 4.5,29 6,33.5 C8,38.5 12,41 16,41 C20,41 24,38.5 26,34 C27.5,30 27,24 26.5,18 C24,21 22,24 20.5,27 C19.5,21 18,14 16,9 Z" fill="#f4761c"/>
<path d="M15.5,18 C15,22 14,26 13,29 C11.5,27 10,25 8.5,24 C8,29 8.5,34 10.5,37 C12,39.5 14,40.5 16.5,40.5 C19,40.5 21.5,39 23,36.5 C24.5,33.5 24,29 23.5,25 C22,27 21,29.5 20,31.5 C19,27 17.5,22 15.5,18 Z" fill="url(#gFlameI)"/>
<ellipse cx="16.2" cy="37" rx="4.5" ry="3.2" fill="#fffbd8" opacity="0.9"/>
</g>
<g transform="translate(559,186.5) scale(1.0)">
<path d="M16.4,0 C15.5,6 13,13 10.5,19 C9,15 6,10 2.7,7 C0.5,12 -0.2,20 0.4,27 C1,34 7,40 14,42 C17,42.8 21,42 24,40 C28,37 29.5,32 29.3,26 C29,20 27.5,14 30,4.3 C25,7 21,11 18.9,16.4 C18.5,11 17.5,5 16.4,0 Z" fill="url(#gFlameO)"/>
<path d="M16,9 C15,15 13.5,21 12.5,25 C11,22 8,19 5.5,16 C4.5,22 4.5,29 6,33.5 C8,38.5 12,41 16,41 C20,41 24,38.5 26,34 C27.5,30 27,24 26.5,18 C24,21 22,24 20.5,27 C19.5,21 18,14 16,9 Z" fill="#f4761c"/>
<path d="M15.5,18 C15,22 14,26 13,29 C11.5,27 10,25 8.5,24 C8,29 8.5,34 10.5,37 C12,39.5 14,40.5 16.5,40.5 C19,40.5 21.5,39 23,36.5 C24.5,33.5 24,29 23.5,25 C22,27 21,29.5 20,31.5 C19,27 17.5,22 15.5,18 Z" fill="url(#gFlameI)"/>
<ellipse cx="16.2" cy="37" rx="4.5" ry="3.2" fill="#fffbd8" opacity="0.9"/>
</g>
<g transform="translate(606,352.7) scale(1.0)">
<path d="M16.4,0 C15.5,6 13,13 10.5,19 C9,15 6,10 2.7,7 C0.5,12 -0.2,20 0.4,27 C1,34 7,40 14,42 C17,42.8 21,42 24,40 C28,37 29.5,32 29.3,26 C29,20 27.5,14 30,4.3 C25,7 21,11 18.9,16.4 C18.5,11 17.5,5 16.4,0 Z" fill="url(#gFlameO)"/>
<path d="M16,9 C15,15 13.5,21 12.5,25 C11,22 8,19 5.5,16 C4.5,22 4.5,29 6,33.5 C8,38.5 12,41 16,41 C20,41 24,38.5 26,34 C27.5,30 27,24 26.5,18 C24,21 22,24 20.5,27 C19.5,21 18,14 16,9 Z" fill="#f4761c"/>
<path d="M15.5,18 C15,22 14,26 13,29 C11.5,27 10,25 8.5,24 C8,29 8.5,34 10.5,37 C12,39.5 14,40.5 16.5,40.5 C19,40.5 21.5,39 23,36.5 C24.5,33.5 24,29 23.5,25 C22,27 21,29.5 20,31.5 C19,27 17.5,22 15.5,18 Z" fill="url(#gFlameI)"/>
<ellipse cx="16.2" cy="37" rx="4.5" ry="3.2" fill="#fffbd8" opacity="0.9"/>
</g>

<g stroke="#4a4a4a" stroke-width="1.4" fill="none">
  <path d="M289.7,243 L100.54,187.53 M289.7,243 L208.22,189.09 M289.7,243 L290.05,196.80"/>
</g>
<g fill="#404040">
  <path d="M94.3,185.7 L102.65,185.65 L101.30,190.25 Z"/>
  <path d="M202.8,185.5 L210.80,187.91 L208.15,191.92 Z"/>
  <path d="M290.1,190.3 L292.44,198.32 L287.64,198.28 Z"/>
</g>

<g stroke="#41719c" stroke-width="1.2" fill="#5b9bd5">
  <ellipse cx="867.7" cy="100" rx="67.3" ry="20.6"/>
  <ellipse cx="869" cy="154.7" rx="66" ry="18.3"/>
  <ellipse cx="872.3" cy="208" rx="62.6" ry="17.3"/>
</g>
<g class="t"><text x="39" y="54.4" font-size="25.6" textLength="214.6" lengthAdjust="spacingAndGlyphs" class="k">THIẾT BỊ ĐẦU VÀO</text>
<text x="640.5" y="53.8" font-size="25.6" textLength="192.5" lengthAdjust="spacingAndGlyphs" class="k">THIẾT BỊ ĐẦU RA</text>
<text x="29.4" y="166.2" font-size="16.28" textLength="69.6" lengthAdjust="spacingAndGlyphs" class="r">NÚT NHẤN</text>
<text x="39" y="185.6" font-size="16.28" textLength="50" lengthAdjust="spacingAndGlyphs" class="r">ĐỊA CHỈ</text>
<text x="117" y="166.2" font-size="16.28" textLength="108" lengthAdjust="spacingAndGlyphs" class="r">ĐẦU BÁO NHIỆT</text>
<text x="146" y="185.6" font-size="16.28" textLength="50" lengthAdjust="spacingAndGlyphs" class="r">ĐỊA CHỈ</text>
<text x="241.3" y="166.2" font-size="16.28" textLength="100" lengthAdjust="spacingAndGlyphs" class="r">ĐẦU BÁO KHÓI</text>
<text x="266" y="185.6" font-size="16.28" textLength="50.7" lengthAdjust="spacingAndGlyphs" class="r">ĐỊA CHỈ</text>
<text x="222.9" y="314.3" font-size="15.23" textLength="128" lengthAdjust="spacingAndGlyphs" class="r">MODULE GIÁM SÁT</text>
<text x="224.4" y="332" font-size="15.23" textLength="125.6" lengthAdjust="spacingAndGlyphs" class="r">ĐẦU VÀO (ĐỊA CHỈ)</text>
<text x="407.8" y="325.3" font-size="22.5" textLength="150" lengthAdjust="spacingAndGlyphs" class="rb">TỦ BÁO CHÁY</text>
<text x="441" y="351.5" font-size="22.5" textLength="83.6" lengthAdjust="spacingAndGlyphs" class="rb">ĐỊA CHỈ</text>
<text x="658.8" y="205.5" font-size="15.75" textLength="59.2" lengthAdjust="spacingAndGlyphs" class="r">MODULE</text>
<text x="650" y="225" font-size="15.75" textLength="79.5" lengthAdjust="spacingAndGlyphs" class="r">ĐIỀU KHIỂN</text>
<text x="661" y="243" font-size="15.75" textLength="58" lengthAdjust="spacingAndGlyphs" class="r">THIẾT BỊ</text>
<text x="661.6" y="492" font-size="15.75" textLength="58.4" lengthAdjust="spacingAndGlyphs" class="r">MODULE</text>
<text x="666.6" y="510" font-size="15.75" textLength="52.4" lengthAdjust="spacingAndGlyphs" class="r">ĐẦU RA</text>
<text x="821" y="409.3" font-size="15.23" textLength="71.6" lengthAdjust="spacingAndGlyphs" class="r">ĐÈN CHÓP</text>
<text x="831.8" y="520.7" font-size="15.23" textLength="57.8" lengthAdjust="spacingAndGlyphs" class="r">CHUÔNG</text>
<text x="828" y="539.5" font-size="15.23" textLength="69" lengthAdjust="spacingAndGlyphs" class="r">BÁO CHÁY</text>
<text x="446" y="525" font-size="15.23" textLength="78.5" lengthAdjust="spacingAndGlyphs" class="r">NGUỒN 24V</text>
<text x="113.5" y="398.7" font-size="16.28" textLength="100.8" lengthAdjust="spacingAndGlyphs" class="g">ĐẦU BÁO KHÓI</text>
<text x="135.7" y="417.7" font-size="16.28" textLength="56.6" lengthAdjust="spacingAndGlyphs" class="g">THƯỜNG</text>
<text x="27.4" y="490.3" font-size="16.28" textLength="70.2" lengthAdjust="spacingAndGlyphs" class="g">NÚT NHẤN</text>
<text x="34.6" y="509.5" font-size="16.28" textLength="56.6" lengthAdjust="spacingAndGlyphs" class="g">THƯỜNG</text>
<text x="109.8" y="544.8" font-size="16.28" textLength="108.2" lengthAdjust="spacingAndGlyphs" class="g">ĐẦU BÁO NHIỆT</text>
<text x="135.6" y="563.4" font-size="16.28" textLength="57.1" lengthAdjust="spacingAndGlyphs" class="g">THƯỜNG</text>
<text x="223" y="498.4" font-size="15.75" textLength="135.9" lengthAdjust="spacingAndGlyphs" class="g">MODULE DÙNG CHO</text>
<text x="228.3" y="517.2" font-size="15.75" textLength="124.7" lengthAdjust="spacingAndGlyphs" class="g">ĐẦU BÁO THƯỜNG</text>
<text x="820" y="105.3" font-size="15.23" textLength="97" lengthAdjust="spacingAndGlyphs" class="w">BƠM CỨU HOẢ</text>
<text x="827.7" y="159.8" font-size="15.23" textLength="81.3" lengthAdjust="spacingAndGlyphs" class="w">THANG MÁY</text>
<text x="836" y="213.4" font-size="15.23" textLength="64" lengthAdjust="spacingAndGlyphs" class="w">QUẠT GIÓ</text></g>
<g>
<path d="M0,581.5 H253.8 L215,638 H0 z" fill="#238b55"/>
<path d="M286,581.5 h14.6 l-35,57 h-15.6 z" fill="#74d69c"/>
<path d="M328,581.5 h14.6 l-35,57 h-15.6 z" fill="#74d69c"/>
<path d="M370,581.5 h14.6 l-35,57 h-15.6 z" fill="#74d69c"/>
<path d="M412,581.5 h14.6 l-35,57 h-15.6 z" fill="#74d69c"/>
<path d="M462,581.5 H960 V638.8 H426 z" fill="#74d69c"/>
<g>
<rect x="23.9" y="590.3" width="41.4" height="41.8" rx="7" fill="#fff"/>
<g fill="#238b55">
<rect x="34" y="600.7" width="4.2" height="21.3"/>
<rect x="34" y="600.7" width="13.5" height="4.1"/>
<path d="M34.3,622 L44.2,606 L55.2,622 L50.8,622 L44.2,612.3 L38.6,622 Z"/>
</g>
<path d="M47,602.75 A4.95,4.95 0 0 1 50,611.8" fill="none" stroke="#238b55" stroke-width="4.1"/>
</g>
<text x="72" y="618.7" font-size="23" textLength="125.5" lengthAdjust="spacingAndGlyphs" fill="#fff" stroke="#fff" stroke-width="0.45" font-weight="normal">RESIDENT</text>
<g>
<circle cx="500.4" cy="611.2" r="19.6" fill="none" stroke="#0c1526" stroke-width="1.7"/>
<ellipse cx="500.4" cy="610.9" rx="12.3" ry="11.9" fill="#0c1526"/>
<g stroke="#74d69c" fill="none">
<ellipse cx="500.4" cy="610.9" rx="6.2" ry="12" stroke-width="1"/>
<path d="M500.4,599 V622.8" stroke-width="1"/>
<path d="M488,610.9 H512.8" stroke-width="1.4"/>
<path d="M491,604.5 Q500.4,600.5 509.8,604.5 M491,617.6 Q500.4,614 509.8,617.6" stroke-width="0.9"/>
</g>
</g>
<g>
<circle cx="739.3" cy="609.8" r="20.6" fill="none" stroke="#0c1526" stroke-width="2"/>
<g fill="#0c1526">
<ellipse cx="732.2" cy="603.6" rx="3.9" ry="4.8" transform="rotate(-35 732.2 603.6)"/>
<ellipse cx="747" cy="617.6" rx="4.8" ry="3.7" transform="rotate(-35 747 617.6)"/>
</g>
<path d="M730.3,606 Q732.5,614.5 744.5,619.5" fill="none" stroke="#0c1526" stroke-width="5.2" stroke-linecap="round"/>
</g>
<text x="536.3" y="621.3" font-size="23.2" textLength="132.5" lengthAdjust="spacingAndGlyphs" fill="#0c1526" font-weight="bold">Resident.vn</text>
<text x="773.8" y="620" font-size="23.2" textLength="141.7" lengthAdjust="spacingAndGlyphs" fill="#0c1526" font-weight="bold">0355.430.074</text>
</g>
</svg>
</body></html>
